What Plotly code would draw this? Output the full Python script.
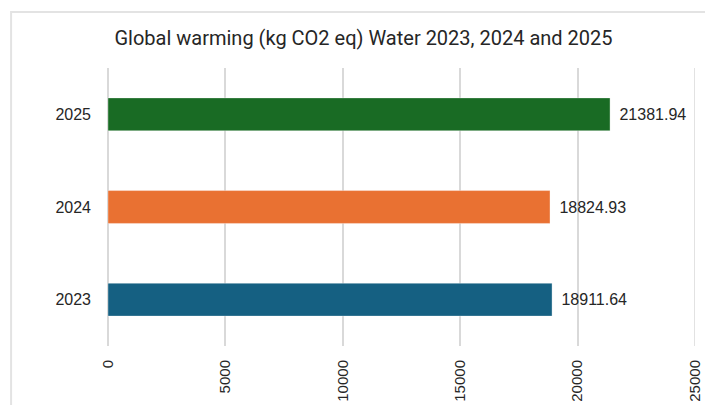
import plotly.graph_objects as go

# Global warming impact of water use per year
years = ["2023", "2024", "2025"]
values = [18911.64, 18824.93, 21381.94]
bar_colors = ["#156082", "#E97132", "#196B24"]
x_ticks = [0, 5000, 10000, 15000, 20000, 25000]

W, H = 705, 405
L, R, T, B = 108, 9.5, 68, 59
plot_w = W - L - R
plot_h = H - T - B

label_font = dict(family="Liberation Sans, Arial, sans-serif", size=16, color="#262626")
grid_color = "#d9d9d9"

fig = go.Figure(go.Bar(
    x=values,
    y=years,
    orientation="h",
    marker_color=bar_colors,
    marker_line=dict(color="rgba(255,255,255,0.35)", width=1),
    text=[f"{v:.2f}" for v in values],
    texttemplate="\u2009\u2009%{text}",
    textposition="outside",
    textfont=label_font,
    cliponaxis=False,
))

fig.update_layout(
    width=W, height=H,
    margin=dict(l=L, r=R, t=T, b=B, pad=0, autoexpand=False),
    paper_bgcolor="white", plot_bgcolor="white",
    showlegend=False,
    bargap=0.645,
    title=dict(
        text="Global warming (kg CO2 eq) Water 2023, 2024 and 2025",
        x=363.5 / W, xanchor="center", xref="container",
        y=1 - 37.5 / H, yanchor="middle", yref="container",
        font=dict(family="Roboto, sans-serif", size=20, color="#262626"),
    ),
    font=label_font,
    xaxis=dict(
        range=[0, x_ticks[-1]], tickvals=x_ticks, ticktext=[str(t) for t in x_ticks],
        tickangle=-90, showgrid=True, gridcolor=grid_color, gridwidth=1.5,
        zeroline=True, zerolinecolor=grid_color, zerolinewidth=1.5,
        showline=False, ticks="", ticklabelstandoff=10, automargin=False,
        tickfont=dict(family="Liberation Sans, Arial, sans-serif", size=15, color="#262626"),
    ),
    yaxis=dict(
        type="category", automargin=False,
        showgrid=False, zeroline=False, showline=False, ticks="",
        ticklabelstandoff=16, tickfont=label_font,
    ),
    shapes=[
        # light chart-area frame
        dict(
            type="rect", xref="paper", yref="paper",
            x0=(11 - L) / plot_w, x1=1.2,
            y0=-0.5, y1=(H - B - 12) / plot_h,
            line=dict(color="#e3e3e3", width=2), fillcolor="rgba(0,0,0,0)", layer="below",
        ),
        # gridline at the upper end of the value axis
        dict(
            type="line", xref="x", yref="paper",
            x0=x_ticks[-1], x1=x_ticks[-1], y0=0, y1=1,
            line=dict(color=grid_color, width=1.5), layer="below",
        ),
    ],
)

fig.write_html("out.html")
